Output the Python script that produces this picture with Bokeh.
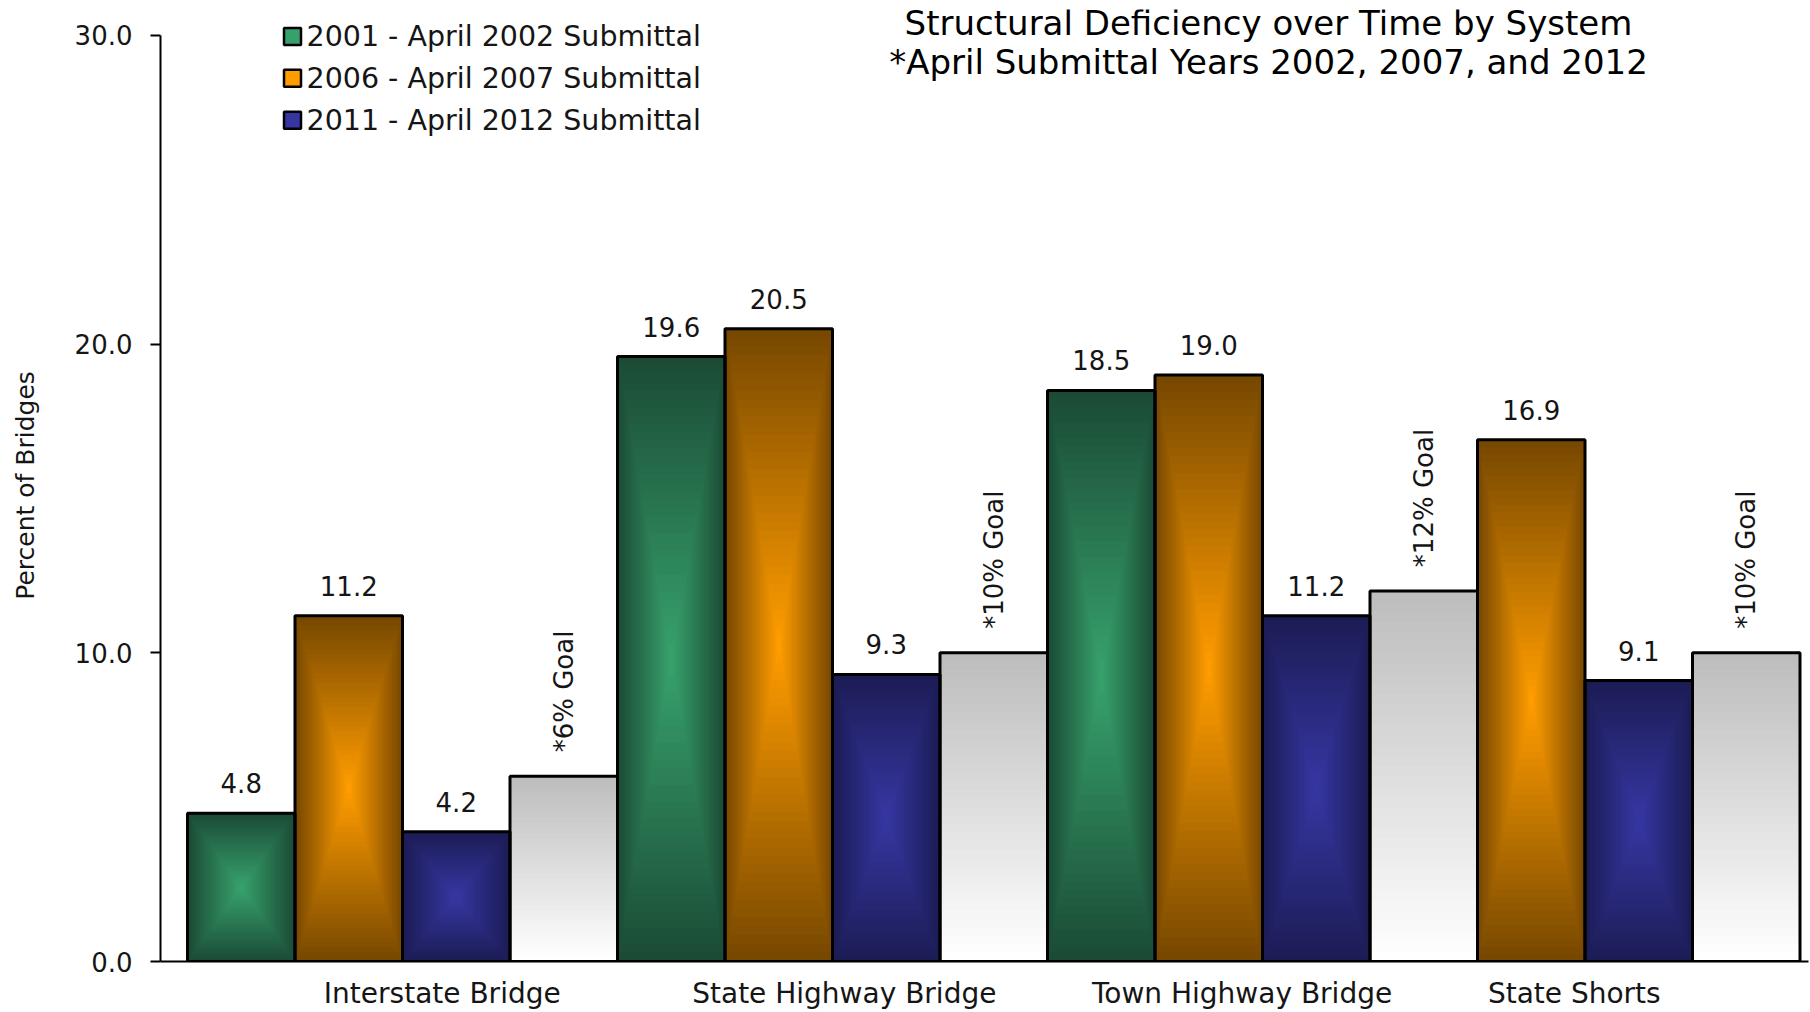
from math import pi
from bokeh.plotting import figure
from bokeh.models import Range1d, FixedTicker, PrintfTickFormatter
from bokeh.embed import file_html
from bokeh.resources import INLINE
from bokeh.core.properties import value

# ---------------- data ----------------
categories = ["Interstate Bridge", "State Highway Bridge", "Town Highway Bridge", "State Shorts"]
sub_2002 = [4.8, 19.6, 18.5, None]
sub_2007 = [11.2, 20.5, 19.0, 16.9]
sub_2012 = [4.2, 9.3, 11.2, 9.1]
goal_pct = [6, 10, 12, 10]
goal_text = ["*6% Goal", "*10% Goal", "*12% Goal", "*10% Goal"]
series_names = ["2001 - April 2002 Submittal", "2006 - April 2007 Submittal", "2011 - April 2012 Submittal"]
y_ticks = [0, 10, 20, 30]
title_lines = ["Structural Deficiency over Time by System",
               "*April Submittal Years 2002, 2007, and 2012"]
y_label = "Percent of Bridges"

# ---------------- style / layout ----------------
FONT = "DejaVu Sans"
TXT = "#151515"
grad = [("#1b4b35", "#37a16c"),   # green
        ("#774800", "#ff9c00"),   # orange
        ("#1c1c55", "#3636a2")]   # blue
goal_top, goal_bottom = "#bdbdbd", "#ffffff"

W, H = 1810, 1012
frame_left, frame_right, frame_top, frame_bottom = 160, 1808, 9, 963
bar_left_px, bar_w_px = 187, 107.5
y0_px, y30_px = 963, 35
ppu = (y0_px - y30_px) / 30.0
x_start = -(bar_left_px - frame_left) / bar_w_px
x_end = x_start + (frame_right - frame_left) / bar_w_px
y_start = 0
y_end = (frame_bottom - frame_top) / ppu


def ux(px):
    return x_start + (px - frame_left) / bar_w_px


def uy(px):
    return (y0_px - px) / ppu


def hex2rgb(h):
    h = h.lstrip("#")
    return tuple(int(h[i:i + 2], 16) for i in (0, 2, 4))


def lerp(c1, c2, t):
    a, b = hex2rgb(c1), hex2rgb(c2)
    return "#%02x%02x%02x" % tuple(int(round(a[i] + (b[i] - a[i]) * t)) for i in range(3))


p = figure(width=W, height=H, output_backend="svg", toolbar_location=None,
           x_range=Range1d(x_start, x_end), y_range=Range1d(y_start, y_end),
           x_axis_location="below", y_axis_location="left",
           min_border_left=frame_left, min_border_right=W - frame_right,
           min_border_top=frame_top, min_border_bottom=H - frame_bottom,
           background_fill_color="white", border_fill_color="white",
           outline_line_color=None)
p.xgrid.visible = False
p.ygrid.visible = False

# ---------------- bars ----------------
bars = []
slot = 0
for ci in range(len(categories)):
    for si, series in enumerate([sub_2002, sub_2007, sub_2012]):
        v = series[ci]
        if v is None:
            continue
        bars.append((slot, slot + 1, v, si))
        slot += 1
    bars.append((slot, slot + 1, goal_pct[ci], 3))
    slot += 1

ql, qr, qb, qt, qc = [], [], [], [], []
N = 36
for x0, x1, v, kind in bars:
    if kind < 3:
        dark, bright = grad[kind]
        cx, cy = (x0 + x1) / 2, v / 2
        hw, hh = (x1 - x0) / 2, v / 2
        for k in range(N):
            f = 1 - k / N
            ql.append(cx - hw * f); qr.append(cx + hw * f)
            qb.append(cy - hh * f); qt.append(cy + hh * f)
            qc.append(lerp(dark, bright, k / (N - 1)))
    else:
        for k in range(N):
            ql.append(x0); qr.append(x1)
            qb.append(v * k / N); qt.append(v)
            qc.append(lerp(goal_bottom, goal_top, k / (N - 1)))

p.quad(left=ql, right=qr, bottom=qb, top=qt, fill_color=qc, line_color=None)

# bar outlines
p.quad(left=[b[0] for b in bars], right=[b[1] for b in bars], bottom=[0] * len(bars),
       top=[b[2] for b in bars], fill_color=None, line_color="black", line_width=3)

# value labels
vb = [b for b in bars if b[3] < 3]
p.text(x=[(b[0] + b[1]) / 2 for b in vb], y=[b[2] + 30 / ppu for b in vb],
       text=["%.1f" % b[2] for b in vb], text_font=value(FONT), text_font_size="26px",
       text_color=TXT, text_align="center", text_baseline="middle")

# goal labels (rotated)
gb = [b for b in bars if b[3] == 3]
p.text(x=[(b[0] + b[1]) / 2 for b in gb], y=[b[2] + 24 / ppu for b in gb],
       text=goal_text, angle=pi / 2, text_font=value(FONT), text_font_size="26px",
       text_color=TXT, text_align="left", text_baseline="middle")

# title
p.text(x=[ux(1268)] * 2, y=[uy(23), uy(62)], text=title_lines, text_font=value(FONT),
       text_font_size="34px", text_color="#000000", text_align="center", text_baseline="middle")

# legend
leg_y = [uy(36), uy(78), uy(120)]
p.scatter(x=[ux(292)] * 3, y=leg_y, marker="square", size=17,
          fill_color=[g[1] for g in grad], line_color="black", line_width=2.5)
p.text(x=[ux(306)] * 3, y=leg_y, text=series_names, text_font=value(FONT),
       text_font_size="28.5px", text_color=TXT, text_align="left", text_baseline="middle")

# x axis (category labels)
cat_label_x = [2.37, 6.11, 9.81, 12.9]
xa = p.xaxis[0]
xa.ticker = FixedTicker(ticks=cat_label_x)
xa.major_label_overrides = {x: c for x, c in zip(cat_label_x, categories)}
xa.axis_line_width = 2
xa.axis_line_color = "black"
xa.major_tick_line_color = None
xa.minor_tick_line_color = None
xa.major_tick_out = 0
xa.major_tick_in = 0
xa.major_label_standoff = 15
xa.major_label_text_font = FONT
xa.major_label_text_font_size = "28px"
xa.major_label_text_color = TXT

# y axis
ax = p.yaxis[0]
ax.ticker = FixedTicker(ticks=y_ticks)
ax.formatter = PrintfTickFormatter(format="%.1f")
ax.bounds = (0, 30)
ax.axis_line_width = 2
ax.axis_line_color = "black"
ax.major_tick_line_width = 2
ax.major_tick_line_color = "black"
ax.major_tick_out = 10
ax.major_tick_in = 0
ax.minor_tick_line_color = None
ax.major_label_standoff = 18
ax.major_label_text_font = FONT
ax.major_label_text_font_size = "26px"
ax.major_label_text_color = TXT
ax.axis_label = y_label
ax.axis_label_text_font = FONT
ax.axis_label_text_font_size = "25px"
ax.axis_label_text_font_style = "normal"
ax.axis_label_text_color = TXT
ax.axis_label_standoff = 32

open("out.html", "w").write(file_html(p, INLINE))
